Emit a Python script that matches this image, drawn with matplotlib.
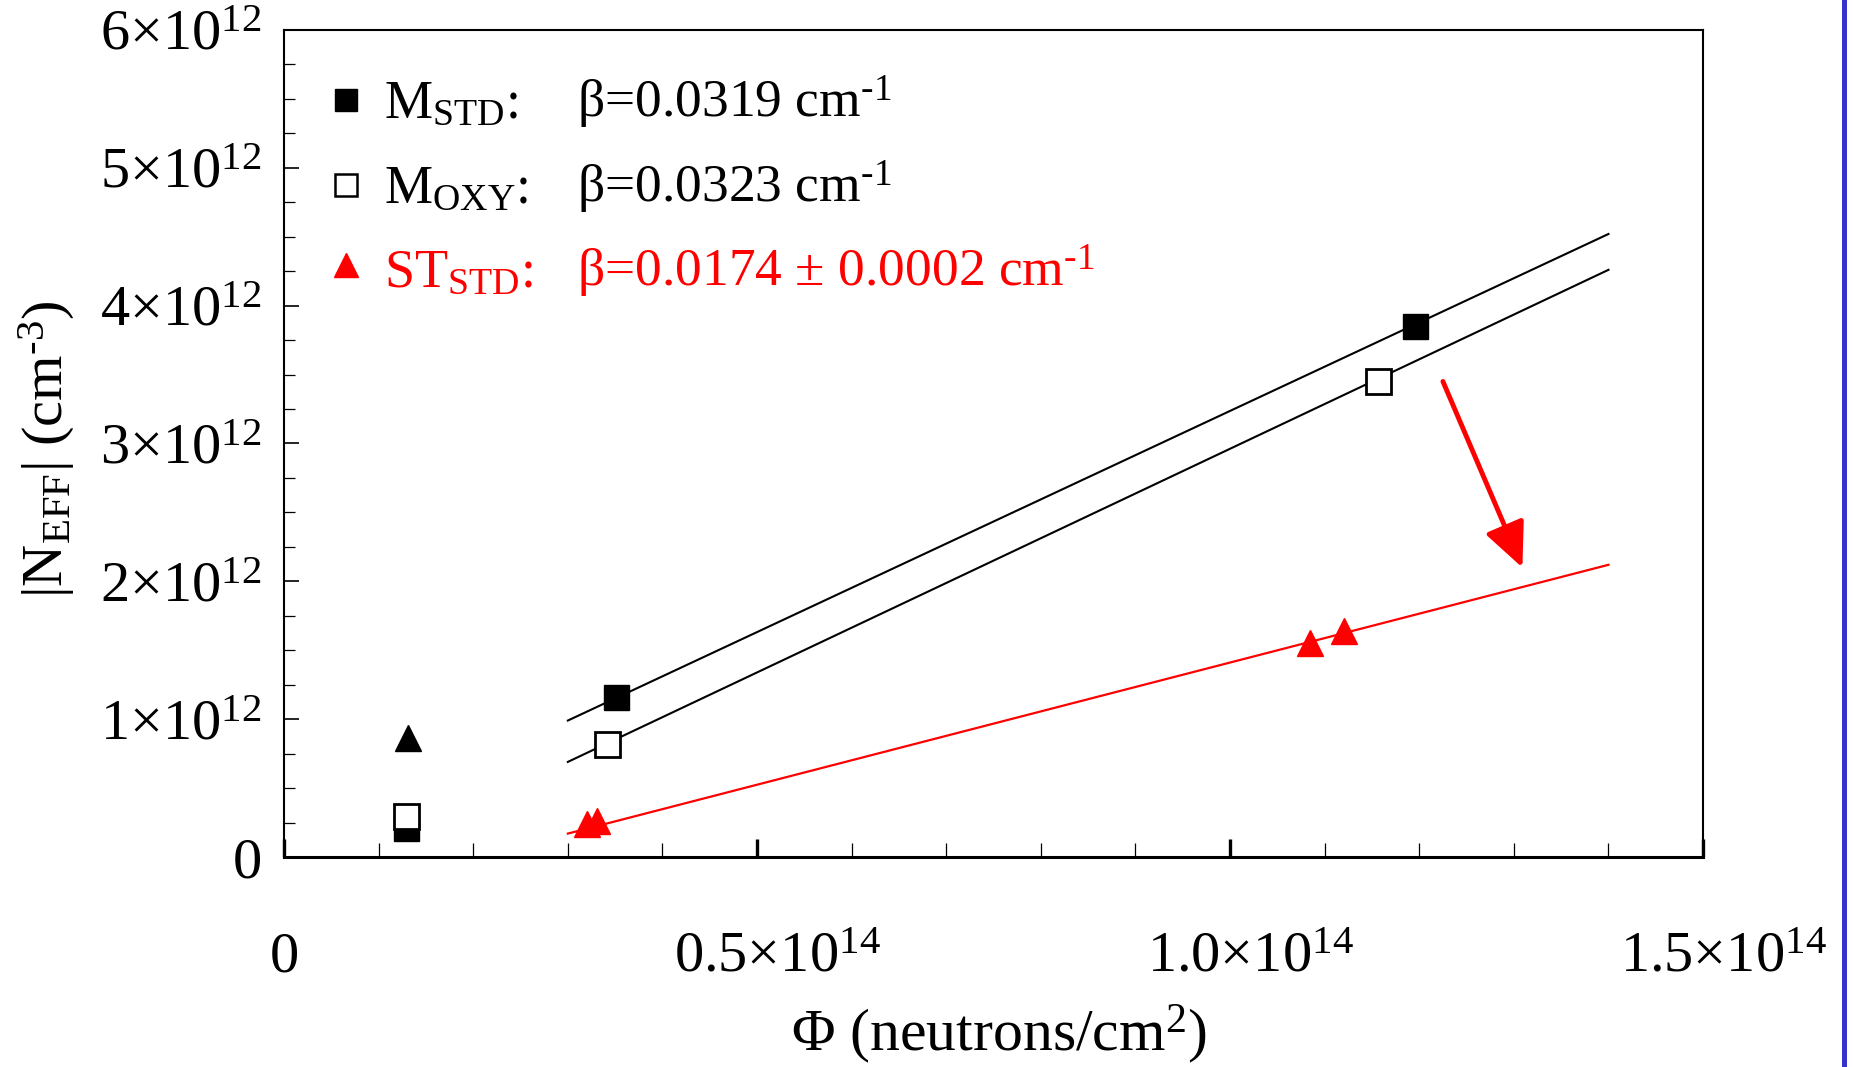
import matplotlib
matplotlib.use("Agg")
import matplotlib.pyplot as plt
from matplotlib.lines import Line2D
from matplotlib.ticker import FixedLocator, MultipleLocator
from matplotlib.transforms import offset_copy

plt.rcParams['font.family'] = ['Liberation Serif', 'DejaVu Serif']
plt.rcParams['mathtext.fontset'] = 'custom'
plt.rcParams['mathtext.rm'] = 'Liberation Serif'
plt.rcParams['mathtext.it'] = 'Liberation Serif:italic'
plt.rcParams['mathtext.bf'] = 'Liberation Serif:bold'
plt.rcParams['font.size'] = 42

# fluence in units of 1e14 n/cm2, |Neff| in units of 1e12 cm-3
m_std_phi = [0.129, 0.351, 1.195]
m_std_neff = [0.21, 1.16, 3.85]
m_oxy_phi = [0.129, 0.341, 1.156]
m_oxy_neff = [0.30, 0.82, 3.45]
st_std_phi = [0.320, 0.331, 1.084, 1.120]
st_std_neff = [0.24, 0.26, 1.55, 1.64]
st_start_phi = [0.131]
st_start_neff = [0.86]

# fitted lines, end points
fit_phi = [0.3, 1.4]
fit_m_std = [0.99, 4.52]
fit_m_oxy = [0.69, 4.26]
fit_st_std = [0.17, 2.12]

# arrow from M fits down to ST fit
arrow_from = (1.225, 3.45)
arrow_to = (1.309, 2.10)

x_ticks = [0, 0.5, 1.0, 1.5]
x_tick_labels = ['0', r'$\mathregular{0.5{\times}10^{14}}$',
                 r'$\mathregular{1.0{\times}10^{14}}$', r'$\mathregular{1.5{\times}10^{14}}$']
y_ticks = [0, 1, 2, 3, 4, 5, 6]
y_tick_labels = ['0'] + [r'$\mathregular{%d{\times}10^{12}}$' % v for v in y_ticks[1:]]

names = [r'M$_{\mathregular{STD}}$:', r'M$_{\mathregular{OXY}}$:', r'ST$_{\mathregular{STD}}$:']
betas = [u'\u03b2=0.0319 cm$^{\u20101}$', u'\u03b2=0.0323 cm$^{\u20101}$',
         u'\u03b2=0.0174 \u00b1 0.0002 cm$^{\u20101}$']

fig = plt.figure(figsize=(18.54, 10.67), dpi=100)
ax = fig.add_axes([0.1532, 0.1968, 0.9186 - 0.1532, 0.9719 - 0.1968])

# fit lines
ax.plot(fit_phi, fit_m_std, color='black', lw=1.5, zorder=2)
ax.plot(fit_phi, fit_m_oxy, color='black', lw=1.5, zorder=2)
ax.plot(fit_phi, fit_st_std, color='red', lw=1.6, zorder=2)

# data points
ax.plot(m_std_phi, m_std_neff, 's', color='black', ms=18, zorder=3)
ax.plot(m_oxy_phi, m_oxy_neff, 's', mfc='white', mec='black', mew=2, ms=18, zorder=4)
ax.plot(st_std_phi, st_std_neff, '^', color='red', ms=19, zorder=3)
ax.plot(st_start_phi, st_start_neff, '^', color='black', ms=19, zorder=3)

ax.annotate('', xy=arrow_to, xytext=arrow_from,
            arrowprops=dict(arrowstyle='-|>,head_length=0.65,head_width=0.3',
                            color='red', lw=3.5, shrinkA=0, shrinkB=0))

# legend drawn by hand
leg_y = [0.915, 0.812, 0.716]
leg_base = [0.8936, 0.7908, 0.6904]
leg_colors = ['black', 'black', 'red']
ax.plot(0.0437, leg_y[0], 's', color='black', ms=16, transform=ax.transAxes)
ax.plot(0.0437, leg_y[1], 's', mfc='white', mec='black', mew=1.8, ms=16, transform=ax.transAxes)
ax.plot(0.0437, leg_y[2], '^', color='red', ms=17, transform=ax.transAxes)
for i in range(3):
    ax.text(0.0705, leg_base[i], names[i], color=leg_colors[i], transform=ax.transAxes,
            ha='left', va='baseline', fontsize=39)
    ax.text(0.2065, leg_base[i], betas[i], color=leg_colors[i], transform=ax.transAxes,
            ha='left', va='baseline', fontsize=38.5)

ax.set_xlim(0, 1.5)
ax.set_ylim(0, 6)

ax.xaxis.set_major_locator(FixedLocator(x_ticks))
ax.xaxis.set_minor_locator(MultipleLocator(0.1))
ax.yaxis.set_major_locator(FixedLocator(y_ticks))
ax.yaxis.set_minor_locator(MultipleLocator(0.25))
ax.set_yticklabels(y_tick_labels)
ax.tick_params(axis='x', which='major', direction='in', length=13, width=2.4, labelbottom=False)
ax.tick_params(axis='x', which='minor', direction='in', length=10, width=0.9)
ax.tick_params(axis='y', which='major', direction='in', length=11, width=1.2, pad=16)
ax.tick_params(axis='y', which='minor', direction='in', length=8, width=0.9)

# x tick labels sit low; centred on the mantissa
for v, lab in zip(x_ticks, x_tick_labels):
    off = 0 if v == 0 else 15
    tr = offset_copy(ax.get_xaxis_transform(), fig=fig, x=off, y=0, units='points')
    ax.text(v, -0.138, lab, transform=tr, ha='center', va='baseline')

for side in ['left', 'top', 'right']:
    ax.spines[side].set_linewidth(1.5)
ax.spines['bottom'].set_linewidth(2.2)

ax.set_xlabel(u'\u03a6 (neutrons/cm$^{2}$)', va='baseline', fontsize=43)
ax.xaxis.set_label_coords(0.504, -0.234)
ax.set_ylabel(u'|N$_{\\mathregular{EFF}}$| (cm$^{\u20103}$)', va='center')
ax.yaxis.set_label_coords(-0.167, 0.493)

# blue bar at the right edge of the slide
fig.add_artist(Line2D([0.99434, 0.99434], [0, 1], transform=fig.transFigure,
                      color='#3333cc', lw=3.6))

fig.savefig('out.png', dpi=100)
